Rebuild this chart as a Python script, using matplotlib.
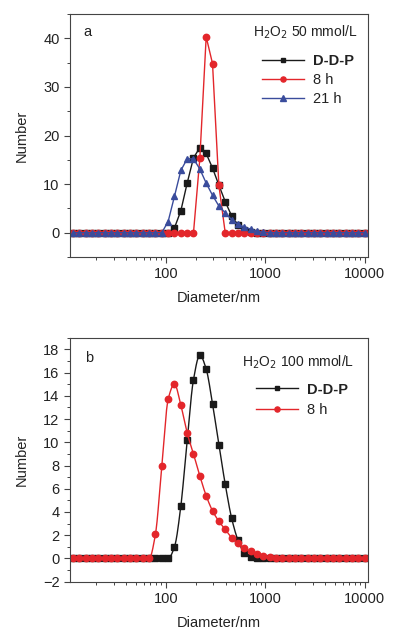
import numpy as np
import matplotlib
matplotlib.use("Agg")
import matplotlib.pyplot as plt
from matplotlib.lines import Line2D
from matplotlib.ticker import MultipleLocator, LogLocator, NullFormatter, FixedLocator

plt.rcParams['font.family'] = ['Liberation Sans', 'DejaVu Sans']

# Size classes (nm)
diam = [11.70, 13.54, 15.69, 18.17, 21.04, 24.36, 28.21, 32.67, 37.84, 43.82,
        50.75, 58.77, 68.06, 78.82, 91.28, 105.7, 122.4, 141.8, 164.2, 190.1,
        220.2, 255.0, 295.3, 342.0, 396.1, 458.7, 531.2, 615.1, 712.4, 825.0,
        955.4, 1106, 1281, 1484, 1718, 1990, 2305, 2669, 3091, 3580, 4145,
        4801, 5560, 6439, 7456, 8635, 10000]

# Panel a (H2O2 50 mmol/L)
ddp = [0]*16 + [1.0, 4.5, 10.2, 15.4, 17.5, 16.3, 13.3, 9.8, 6.4, 3.5, 1.6, 0.5, 0.1, 0, 0] + [0]*16
a_8h = [0]*20 + [15.3, 40.3, 34.8, 9.8] + [0]*23
a_21h = [0]*15 + [2.3, 7.5, 12.8, 15.2, 15.2, 13.1, 10.2, 7.7, 5.5, 4.1, 2.7, 1.7, 1.2, 0.75, 0.35, 0.1] + [0]*16

# Panel b (H2O2 100 mmol/L)
b_8h = [0]*13 + [2.1, 8.0, 13.7, 15.0, 13.2, 10.8, 9.0, 7.1, 5.4, 4.1, 3.2, 2.5, 1.8, 1.3,
                 0.9, 0.6, 0.4, 0.2, 0.1] + [0]*15

black = '#1a1a1a'
red = '#e3262b'
blue = '#3a4c9c'
txt = '#222222'


def smooth_curve(x, y, n=12):
    """Monotone cubic (Fritsch-Carlson) display curve in log-x space."""
    lx = np.log10(np.asarray(x, float))
    y = np.asarray(y, float)
    h = np.diff(lx)
    d = np.diff(y) / h
    m = np.zeros_like(y)
    m[0], m[-1] = d[0], d[-1]
    for i in range(1, len(y) - 1):
        if d[i-1] * d[i] > 0:
            w1 = 2*h[i] + h[i-1]
            w2 = h[i] + 2*h[i-1]
            m[i] = (w1 + w2) / (w1/d[i-1] + w2/d[i])
    xs, ys = [], []
    for i in range(len(y) - 1):
        t = np.linspace(0, 1, n, endpoint=False)
        h00 = 2*t**3 - 3*t**2 + 1
        h10 = t**3 - 2*t**2 + t
        h01 = -2*t**3 + 3*t**2
        h11 = t**3 - t**2
        xs.append(lx[i] + t*h[i])
        ys.append(h00*y[i] + h10*h[i]*m[i] + h01*y[i+1] + h11*h[i]*m[i+1])
    xs.append([lx[-1]]); ys.append([y[-1]])
    return 10**np.concatenate(xs), np.concatenate(ys)


fig = plt.figure(figsize=(3.99, 6.38), dpi=100)
W, H = 399, 638
ax1 = fig.add_axes([70/W, 1-257/H, 298/W, 243/H])
ax2 = fig.add_axes([70/W, 1-581.7/H, 298/W, 244/H])

ms = 4.2
lw = 1.0
ax1.plot(diam, ddp, '-s', color=black, ms=ms, lw=lw)
ax1.plot(diam, a_8h, '-o', color=red, ms=ms+0.4, lw=lw)
ax1.plot(diam, a_21h, '-^', color=blue, ms=ms+0.6, lw=lw)

sx, sy = smooth_curve(diam, ddp)
ax2.plot(sx, sy, '-', color=black, lw=lw)
ax2.plot(diam, ddp, 's', color=black, ms=ms)
sx, sy = smooth_curve(diam, b_8h)
ax2.plot(sx, sy, '-', color=red, lw=lw)
ax2.plot(diam, b_8h, 'o', color=red, ms=ms+0.4)

h_ddp = Line2D([], [], color=black, marker='s', ms=ms*0.8, lw=lw)
h_8 = Line2D([], [], color=red, marker='o', ms=(ms+0.4)*0.8, lw=lw)
h_21 = Line2D([], [], color=blue, marker='^', ms=(ms+0.6)*0.8, lw=lw)

for ax in (ax1, ax2):
    ax.set_xscale('log')
    ax.set_xlim(10.9, 10800)
    ax.xaxis.set_major_locator(FixedLocator([100, 1000, 10000]))
    ax.set_xticklabels(['100', '1000', '10000'])
    ax.xaxis.set_minor_locator(LogLocator(base=10, subs=np.arange(2, 10)))
    ax.xaxis.set_minor_formatter(NullFormatter())
    ax.tick_params(which='major', direction='out', length=4, width=0.8, colors='#444444',
                   labelcolor=txt, labelsize=10.5)
    ax.tick_params(which='minor', direction='out', length=2.2, width=0.7, colors='#444444')
    for s in ax.spines.values():
        s.set_color('#444444')
        s.set_linewidth(0.8)
    ax.set_xlabel('Diameter/nm', fontsize=10.5, color=txt, labelpad=7)
    ax.set_ylabel('Number', fontsize=10.5, color=txt, labelpad=10)

ax1.set_ylim(-5, 45)
ax1.yaxis.set_major_locator(MultipleLocator(10))
ax1.yaxis.set_minor_locator(MultipleLocator(5))
ax2.set_ylim(-2, 19)
ax2.yaxis.set_major_locator(MultipleLocator(2))
ax2.yaxis.set_minor_locator(MultipleLocator(1))

ax1.text(0.045, 0.925, 'a', transform=ax1.transAxes, fontsize=10.5, color=txt, va='center')
ax2.text(0.052, 0.915, 'b', transform=ax2.transAxes, fontsize=10.5, color=txt, va='center')
ax1.text(0.965, 0.925, r'H$_2$O$_2$ 50 mmol/L', transform=ax1.transAxes, fontsize=10,
         color=txt, va='center', ha='right')
ax2.text(0.955, 0.9, r'H$_2$O$_2$ 100 mmol/L', transform=ax2.transAxes, fontsize=10,
         color=txt, va='center', ha='right')

leg1 = ax1.legend([h_ddp, h_8, h_21], ['D-D-P', '8 h', '21 h'],
                  loc='upper left', bbox_to_anchor=(0.625, 0.86), frameon=False, fontsize=10.5,
                  handlelength=2.9, handletextpad=0.6, labelspacing=0.35, borderaxespad=0)
leg2 = ax2.legend([h_ddp, h_8], ['D-D-P', '8 h'],
                  loc='upper left', bbox_to_anchor=(0.605, 0.84), frameon=False, fontsize=10.5,
                  handlelength=2.9, handletextpad=0.6, labelspacing=0.45, borderaxespad=0)
for leg in (leg1, leg2):
    for t in leg.get_texts():
        t.set_color(txt)
    leg.get_texts()[0].set_fontweight('bold')

ax1.yaxis.set_label_coords(-0.14, 0.5)
ax2.yaxis.set_label_coords(-0.14, 0.5)

fig.savefig('out.png', dpi=100)
